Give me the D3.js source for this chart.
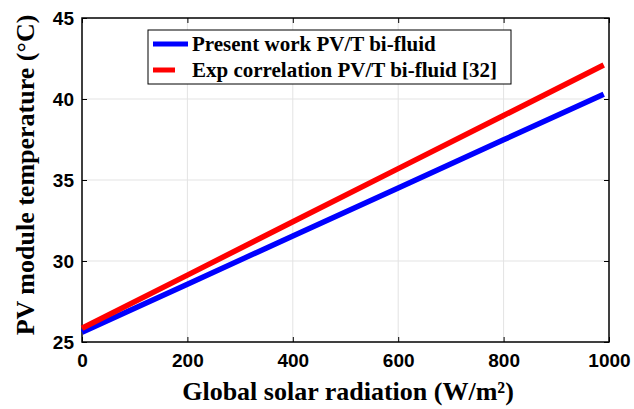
<!DOCTYPE html>
<html>
<head>
<meta charset="utf-8">
<script src="https://cdn.jsdelivr.net/npm/d3@7"></script>
<style>
  body { margin: 0; background: #fff; }
  .tick text { font-family: "Liberation Sans", Arial, sans-serif; font-weight: bold; font-size: 19px; fill: #000; }
  .lbl { font-family: "Liberation Serif", "Times New Roman", serif; font-weight: bold; }
</style>
</head>
<body>
<div id="chart"></div>
<script>
const w = 634;
const h = 409;
const margin = { top: 18, right: 25, bottom: 67, left: 82 };

// irradiance (W/m2) and module temperature (degC)
const radiation = [0, 200, 400, 600, 800, 990];
const presentWork = [25.6, 28.57, 31.54, 34.51, 37.48, 40.3];
const expCorrelation = [25.85, 29.13, 32.42, 35.7, 38.98, 42.1];
const xTicks = [0, 200, 400, 600, 800, 1000];
const yTicks = [25, 30, 35, 40, 45];
const seriesNames = ["Present work PV/T bi-fluid", "Exp correlation PV/T bi-fluid [32]"];
const seriesColors = ["#0000ff", "#ff0000"];

const svg = d3.select("#chart").append("svg")
  .attr("width", w)
  .attr("height", h);

const x = d3.scaleLinear().domain([0, 1000]).range([margin.left, w - margin.right]);
const y = d3.scaleLinear().domain([25, 45]).range([h - margin.bottom, margin.top]);

// grid
const grid = svg.append("g");
grid.selectAll("line.gx").data(xTicks.slice(1, -1)).enter().append("line")
  .attr("x1", (d) => x(d)).attr("x2", (d) => x(d))
  .attr("y1", y(25)).attr("y2", y(45))
  .attr("stroke", "#e3e3e3").attr("stroke-width", 1);
grid.selectAll("line.gy").data(yTicks.slice(1, -1)).enter().append("line")
  .attr("x1", x(0)).attr("x2", x(1000))
  .attr("y1", (d) => y(d)).attr("y2", (d) => y(d))
  .attr("stroke", "#e3e3e3").attr("stroke-width", 1);

// axes, ticks pointing inward like matlab
const tickLen = 5;
svg.append("g").attr("transform", `translate(0,${y(25)})`)
  .call(d3.axisBottom(x).tickValues(xTicks).tickFormat(d3.format("d")).tickSizeInner(-tickLen).tickSizeOuter(0).tickPadding(12))
  .call((g) => g.select(".domain").remove());
svg.append("g").attr("transform", `translate(${x(0)},0)`)
  .call(d3.axisLeft(y).tickValues(yTicks).tickSizeInner(-tickLen).tickSizeOuter(0).tickPadding(8))
  .call((g) => g.select(".domain").remove())
  .call((g) => g.selectAll(".tick text").attr("dy", "0.36em"));
svg.append("g").attr("transform", `translate(0,${y(45)})`)
  .call(d3.axisTop(x).tickValues(xTicks).tickSizeInner(-tickLen).tickSizeOuter(0).tickFormat(""))
  .call((g) => g.select(".domain").remove());
svg.append("g").attr("transform", `translate(${x(1000)},0)`)
  .call(d3.axisRight(y).tickValues(yTicks).tickSizeInner(-tickLen).tickSizeOuter(0).tickFormat(""))
  .call((g) => g.select(".domain").remove());
svg.selectAll(".tick line").attr("stroke", "#000");

svg.append("rect")
  .attr("x", x(0)).attr("y", y(45))
  .attr("width", x(1000) - x(0)).attr("height", y(25) - y(45))
  .attr("fill", "none").attr("stroke", "#000").attr("stroke-width", 1.5);

// lines
const line = d3.line().x((d) => x(d[0])).y((d) => y(d[1]));
[presentWork, expCorrelation].forEach((vals, i) => {
  svg.append("path")
    .datum(radiation.map((r, j) => [r, vals[j]]))
    .attr("d", line)
    .attr("fill", "none")
    .attr("stroke", seriesColors[i])
    .attr("stroke-width", 5.5);
});

// legend
const leg = svg.append("g");
leg.append("rect")
  .attr("x", 148).attr("y", 30).attr("width", 363).attr("height", 54)
  .attr("fill", "#fff").attr("stroke", "#000").attr("stroke-width", 1);
seriesNames.forEach((name, i) => {
  const ly = 44 + i * 26;
  leg.append("line")
    .attr("x1", 153).attr("x2", i === 0 ? 188 : 175)
    .attr("y1", ly).attr("y2", ly)
    .attr("stroke", seriesColors[i]).attr("stroke-width", 5);
  leg.append("text")
    .attr("class", "lbl")
    .attr("x", 192).attr("y", ly + 7)
    .style("font-size", "21px")
    .text(name);
});

// axis titles
svg.append("text")
  .attr("class", "lbl")
  .attr("x", 348).attr("y", 400)
  .attr("text-anchor", "middle")
  .style("font-size", "26px")
  .text("Global solar radiation (W/m²)");
svg.append("text")
  .attr("class", "lbl")
  .attr("transform", "translate(34,175) rotate(-90)")
  .attr("text-anchor", "middle")
  .style("font-size", "26px")
  .text("PV module temperature (°C)");
</script>
</body>
</html>
